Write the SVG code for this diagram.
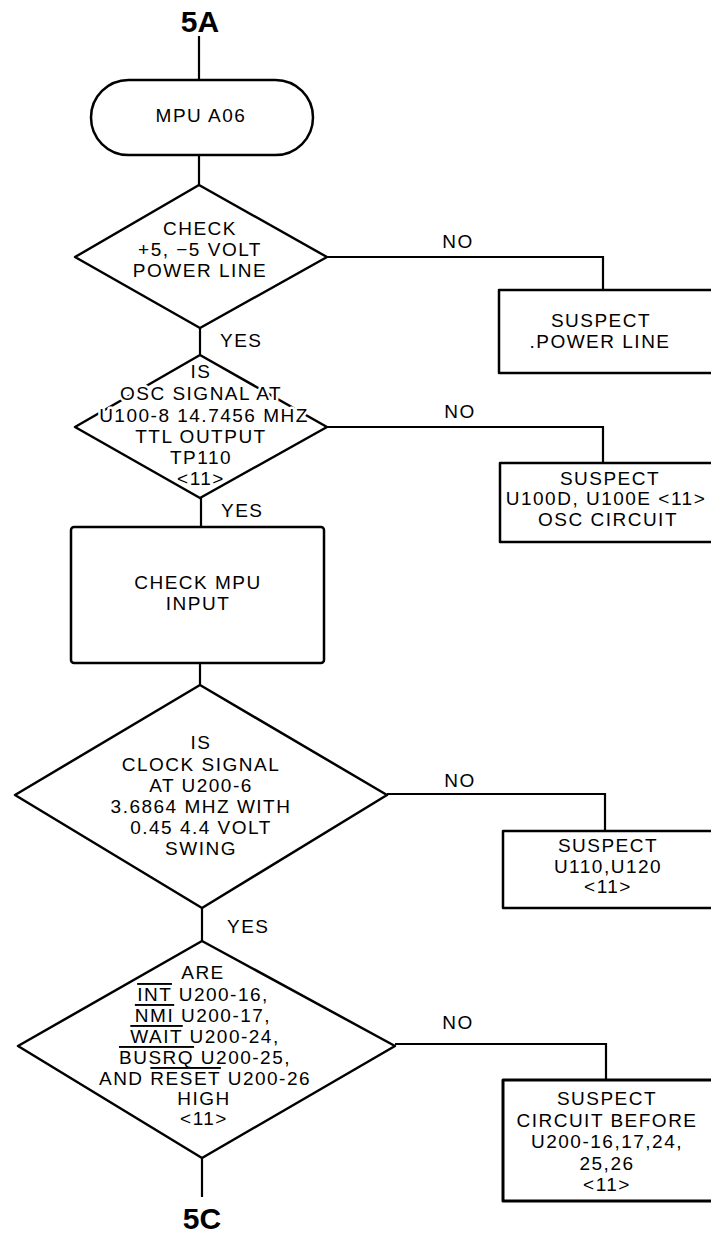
<svg xmlns="http://www.w3.org/2000/svg" width="711" height="1236" viewBox="0 0 711 1236">
<style>
  .t{font-family:"Liberation Sans",Arial,sans-serif;font-size:19px;letter-spacing:1.5px;fill:#000;text-anchor:middle}
  .l{font-family:"Liberation Sans",Arial,sans-serif;font-size:19px;letter-spacing:1.5px;fill:#000}
  .h{paint-order:stroke;stroke:#fff;stroke-width:5px;stroke-linejoin:round}
  .big{font-family:"Liberation Sans",Arial,sans-serif;font-size:30px;font-weight:bold;fill:#000;text-anchor:middle}
  .s{fill:#fff;stroke:#000;stroke-width:2.5;stroke-linejoin:round}
  .c{fill:none;stroke:#000;stroke-width:2.2}
  .ov{text-decoration:overline}
</style>
<rect width="711" height="1236" fill="#fff"/>
<g id="connectors">
  <polyline class="c" points="199,36 199,80"/>
  <polyline class="c" points="199,155 199,185"/>
  <polyline class="c" points="200,328 200,355"/>
  <polyline class="c" points="327,257 603,257 603,290"/>
  <polyline class="c" points="327,427 603,427 603,463"/>
  <polyline class="c" points="201,498 201,527"/>
  <polyline class="c" points="200,663 200,685"/>
  <polyline class="c" points="387,794 605,794 605,831"/>
  <polyline class="c" points="202,908 202,941"/>
  <polyline class="c" points="395,1044 606,1044 606,1080"/>
  <polyline class="c" points="202,1158 202,1197"/>
  <text class="l" x="220" y="347">YES</text>
  <text class="l" x="221" y="517">YES</text>
  <text class="l" x="227" y="933">YES</text>
  <text class="t" x="458" y="248">NO</text>
  <text class="t" x="460" y="418">NO</text>
  <text class="t" x="460" y="787">NO</text>
  <text class="t" x="458" y="1029">NO</text>
</g>
<g id="start5A">
  <text class="big" x="200" y="32">5A</text>
</g>
<g id="mpuA06">
  <rect class="s" x="91" y="80" width="222" height="75" rx="37.5"/>
  <text class="t" x="201" y="122">MPU A06</text>
</g>
<g id="checkPower">
  <polygon class="s" points="199,185 327,257 200,328 75,257"/>
  <text class="t" x="200" y="235">CHECK</text>
  <text class="t" x="200" y="256">+5, −5 VOLT</text>
  <text class="t" x="200" y="277">POWER LINE</text>
</g>
<g id="suspectPower">
  <rect class="s" x="499" y="290" width="230" height="83"/>
  <text class="t" x="601" y="327">SUSPECT</text>
  <text class="t" x="600" y="348">.POWER LINE</text>
</g>
<g id="oscSignal">
  <polygon class="s" points="200,355 327,427 200,498 75,427"/>
  <text class="t h" x="201" y="378">IS</text>
  <text class="t h" x="201" y="400">OSC SIGNAL AT</text>
  <text class="t h" x="204" y="422">U100-8 14.7456 MHZ</text>
  <text class="t h" x="201" y="443">TTL OUTPUT</text>
  <text class="t h" x="201" y="464">TP110</text>
  <text class="t h" x="201" y="485">&lt;11&gt;</text>
</g>
<g id="suspectOsc">
  <rect class="s" x="500" y="463" width="230" height="79"/>
  <text class="t" x="610" y="485">SUSPECT</text>
  <text class="t" x="606" y="505">U100D, U100E &lt;11&gt;</text>
  <text class="t" x="608" y="526">OSC CIRCUIT</text>
</g>
<g id="checkMpuInput">
  <rect class="s" x="71" y="527" width="253" height="136" rx="3"/>
  <text class="t" x="198" y="589">CHECK MPU</text>
  <text class="t" x="198" y="610">INPUT</text>
</g>
<g id="clockSignal">
  <polygon class="s" points="200,685 387,795 202,908 15,795"/>
  <text class="t" x="201" y="749">IS</text>
  <text class="t" x="201" y="771">CLOCK SIGNAL</text>
  <text class="t" x="201" y="792">AT U200-6</text>
  <text class="t" x="201" y="813">3.6864 MHZ WITH</text>
  <text class="t" x="201" y="834">0.45 4.4 VOLT</text>
  <text class="t" x="201" y="855">SWING</text>
</g>
<g id="suspectU110">
  <rect class="s" x="503" y="831" width="230" height="77"/>
  <text class="t" x="608" y="852">SUSPECT</text>
  <text class="t" x="608" y="873">U110,U120</text>
  <text class="t" x="608" y="893">&lt;11&gt;</text>
</g>
<g id="areHigh">
  <polygon class="s" points="202,941 395,1046 202,1158 18,1046"/>
  <text class="t" x="203" y="979">ARE</text>
  <text class="t" x="203" y="1001"><tspan class="ov">INT</tspan> U200-16,</text>
  <text class="t" x="203" y="1022"><tspan class="ov">NMI</tspan> U200-17,</text>
  <text class="t" x="205" y="1043"><tspan class="ov">WAIT</tspan> U200-24,</text>
  <text class="t" x="205" y="1064"><tspan class="ov">BUSRQ</tspan> U200-25,</text>
  <text class="t" x="205" y="1085">AND <tspan class="ov">RESET</tspan> U200-26</text>
  <text class="t" x="204" y="1105">HIGH</text>
  <text class="t" x="204" y="1125">&lt;11&gt;</text>
</g>
<g id="suspectCircuit">
  <rect class="s" x="503" y="1080" width="230" height="121" style="stroke-width:3"/>
  <text class="t" x="607" y="1105">SUSPECT</text>
  <text class="t" x="607" y="1127">CIRCUIT BEFORE</text>
  <text class="t" x="607" y="1148">U200-16,17,24,</text>
  <text class="t" x="607" y="1170">25,26</text>
  <text class="t" x="607" y="1191">&lt;11&gt;</text>
</g>
<g id="end5C">
  <text class="big" x="202" y="1229">5C</text>
</g>
</svg>
